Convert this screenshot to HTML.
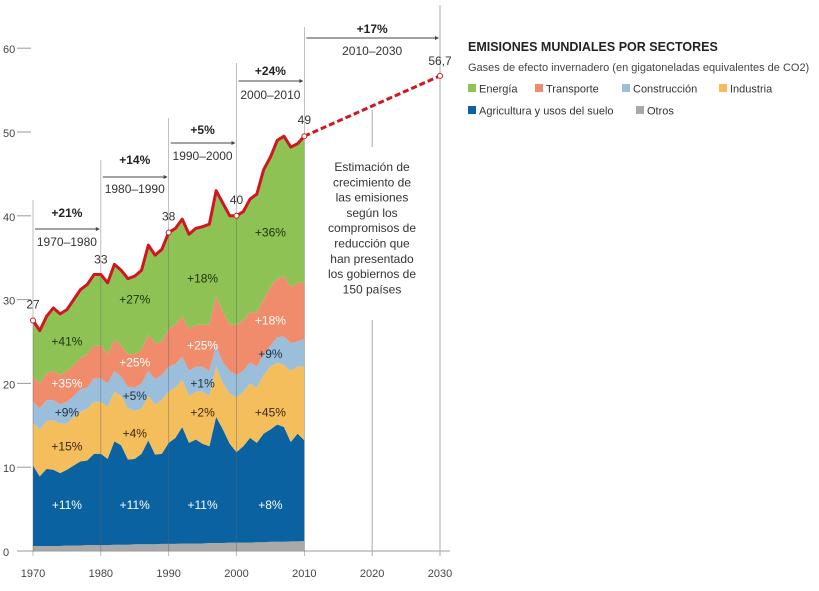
<!DOCTYPE html>
<html><head><meta charset="utf-8"><style>
body{margin:0;background:#fff;width:819px;height:586px;overflow:hidden;font-family:"Liberation Sans",sans-serif}
svg text{font-family:"Liberation Sans",sans-serif}
</style></head><body>
<svg id="c" width="819" height="586"></svg>
<script>
const years=[1970,1971,1972,1973,1974,1975,1976,1977,1978,1979,1980,1981,1982,1983,1984,1985,1986,1987,1988,1989,1990,1991,1992,1993,1994,1995,1996,1997,1998,1999,2000,2001,2002,2003,2004,2005,2006,2007,2008,2009,2010];
const otros=[0.6,0.6,0.6,0.6,0.6,0.65,0.65,0.65,0.7,0.7,0.7,0.7,0.75,0.75,0.75,0.8,0.8,0.8,0.8,0.85,0.85,0.85,0.9,0.9,0.9,0.9,0.95,0.95,0.95,1,1,1,1,1.05,1.05,1.1,1.1,1.1,1.15,1.15,1.2];
const agriTop=[10.2,8.9,9.8,9.7,9.3,9.7,10.2,10.7,10.8,11.6,11.6,11,13.1,12.6,10.9,11,11.6,13.2,11.5,11.6,12.9,13.5,14.8,12.9,13.3,12.8,12.5,16,14.5,12.8,11.8,12.5,13.5,12.9,14,14.5,15.1,14.8,13,14,13.2];
const induTop=[15.3,14.5,15.5,15.6,15.2,15.2,16,16.6,17,17.8,17.8,17.2,19,18.5,17,16.7,17,18.5,17.5,18,19,19.5,20.4,18.5,19,19,18.5,22,20,18.8,18.3,19,20,19.5,21,22,22.5,22.2,21.5,22,22];
const consTop=[17.8,17,18,18,17.5,17.8,18.5,19.3,19.5,20.6,20.6,20,21.5,20.8,19.6,19.5,20,21.5,20.5,21,22,22.3,23.2,21.5,22,22,21.5,24.5,22.5,21.5,21,21.5,22.5,22,23.5,24.5,25.5,25.6,24.8,25,25.3];
const tranTop=[20.8,20,21.2,21.5,21,21.5,22.2,23,23.5,24.5,24.5,23.5,25.2,24.5,23.5,23.5,24,25.8,24.8,25,26.5,27,28,26.5,27,27,27,30.4,28.5,27,27,27.5,28.5,28.5,30,31.5,32.5,32.8,31.5,32,32];
const total=[27.5,26.3,28,29,28.3,28.8,30,31.2,31.8,33,33,32,34.2,33.5,32.5,32.8,33.5,36.5,35.3,36,38,38.5,39.6,37.8,38.5,38.7,39,43,41.5,40,40,40.5,42,42.6,45.5,47,49,49.5,48.2,48.6,49.5];
const projYears=[2010,2030];const projVals=[49.5,56.7];
const yTicks=[0,10,20,30,40,50,60];
const xTicks=[1970,1980,1990,2000,2010,2020,2030];
const labelYears=[1970,1990,2000,2010];const labelVals=["27","38","40","49"];
const decades=[[1970,1980,"+21%","1970–1980",213,229,241],[1980,1990,"+14%","1980–1990",160,177,188],[1990,2000,"+5%","1990–2000",130,143,155],[2000,2010,"+24%","2000–2010",71,81,94],[2010,2030,"+17%","2010–2030",29,38,50]];
const lineTops={1970:200,1980:160,1990:118,2000:63,2010:27,2030:5};
const pctCols=[1975,1985,1995,2005];
const pcts=[["+11%","+11%","+11%","+8%"],["+15%","+4%","+2%","+45%"],["+9%","+5%","+1%","+9%"],["+35%","+25%","+25%","+18%"],["+41%","+27%","+18%","+36%"]];
const pctVals=[[5.5,5.5,5.5,5.5],[12.5,14,16.5,16.5],[16.5,18.5,20,23.5],[20,22.5,24.5,27.5],[25,30,32.5,38]];
const pctColors=["#fff","#3a2a10","#1f3040","#fff","#1f3010"];

const X=y=>33+(y-1970)*(407/60);
const Y=v=>551-v*8.38;
const S=document.getElementById('c');const NS='http://www.w3.org/2000/svg';
function mk(t,a,p){const e=document.createElementNS(NS,t);for(const k in a)e.setAttribute(k,a[k]);(p||S).appendChild(e);return e;}
function area(top,bot,col,name){let d='M'+years.map((y,i)=>X(y)+','+Y(top[i])).join('L');for(let i=years.length-1;i>=0;i--)d+='L'+X(years[i])+','+Y(bot[i]);const e=mk('path',{d:d+'Z',fill:col});

}
const zero=years.map(()=>0);
area(otros,zero,'#a9a9a9','area-otros');
area(agriTop,otros,'#0b62a0','area-agricultura');
area(induTop,agriTop,'#f5be5c','area-industria');
area(consTop,induTop,'#9bbfda','area-construccion');
area(tranTop,consTop,'#f08b6c','area-transporte');
area(total,tranTop,'#8ec255','area-energia');
yTicks.forEach(v=>{const t=mk('text',{x:3,y:Y(v)+5,'font-size':11,fill:'#444'});t.textContent=v;


mk('line',{x1:17,x2:31,y1:Y(v),y2:Y(v),stroke:'#999','stroke-width':1});});
mk('line',{x1:17,x2:450,y1:551,y2:551,stroke:'#999'});
xTicks.forEach(y=>{const top=y===2020?320:(lineTops[y]||0);
if(y===2020)mk('line',{x1:X(y),x2:X(y),y1:110,y2:147,stroke:'#aaa'});
mk('line',{x1:X(y),x2:X(y),y1:top,y2:556,stroke:y<=2010?'#666':'#aaa','stroke-width':y<=2010?0.7:1,'stroke-opacity':y<=2010?0.6:1});
const t=mk('text',{x:X(y),y:577,'font-size':11,fill:'#444','text-anchor':'middle'});t.textContent=y;

});
decades.forEach(d=>{const x1=X(d[0]),x2=X(d[1]),m=(x1+x2)/2;
const a=mk('text',{x:m,y:d[4]+4,'font-size':12,'font-weight':'bold',fill:'#222','text-anchor':'middle'});a.textContent=d[2];


mk('line',{x1:x1+2,x2:x2-2,y1:d[5],y2:d[5],stroke:'#444'});
mk('path',{d:`M${x2-1},${d[5]}l-4,-2v4z`,fill:'#444'});
const b=mk('text',{x:m,y:d[6]+5,'font-size':12,fill:'#333','text-anchor':'middle'});b.textContent=d[3];

});
pcts.forEach((row,r)=>row.forEach((s,c)=>{const t=mk('text',{x:X(pctCols[c]),y:Y(pctVals[r][c])+4,'font-size':12,fill:pctColors[r],'text-anchor':'middle'});t.textContent=s;

}));
const tl=mk('path',{d:'M'+years.map((y,i)=>X(y)+','+Y(total[i])).join('L'),fill:'none',stroke:'#d0161f','stroke-width':3,'stroke-linejoin':'round'});


const pl=mk('line',{x1:X(projYears[0]),y1:Y(projVals[0]),x2:X(projYears[1]),y2:Y(projVals[1]),stroke:'#d0161f','stroke-width':3,'stroke-dasharray':'6,3'});


labelYears.forEach((y,i)=>{const v=total[years.indexOf(y)];mk('circle',{cx:X(y),cy:Y(v),r:2.5,fill:'#fff',stroke:'#d0161f','stroke-width':1});
const t=mk('text',{x:X(y),y:Y(v)-12,'font-size':12,fill:'#333','text-anchor':'middle'});t.textContent=labelVals[i];

});
const t33=mk('text',{x:X(1980),y:Y(33)-11,'font-size':12,fill:'#333','text-anchor':'middle'});t33.textContent='33';


mk('circle',{cx:X(2030),cy:Y(56.7),r:2.5,fill:'#fff',stroke:'#d0161f'});
const t57=mk('text',{x:X(2030),y:Y(56.7)-11,'font-size':12,fill:'#333','text-anchor':'middle'});t57.textContent='56,7';


const note=["Estimación de","crecimiento de","las emisiones","según los","compromisos de","reducción que","han presentado","los gobiernos de","150 países"];
note.forEach((s,i)=>{const t=mk('text',{x:372,y:171+i*15.3,'font-size':12,fill:'#333','text-anchor':'middle'});t.textContent=s;

});
const h=mk('text',{x:468,y:51,'font-size':12.5,'font-weight':'bold',fill:'#222'});h.textContent='EMISIONES MUNDIALES POR SECTORES';


const sb=mk('text',{x:468,y:71,'font-size':11,fill:'#444'});sb.textContent='Gases de efecto invernadero (en gigatoneladas equivalentes de CO2)';


const leg=[["Energía","#8ec255",468,89],["Transporte","#f08b6c",535,89],["Construcción","#9bbfda",622,89],["Industria","#f5be5c",719,89],["Agricultura y usos del suelo","#0b62a0",468,111],["Otros","#a9a9a9",636,111]];
leg.forEach(l=>{const g=mk('g',{});


mk('rect',{x:l[2],y:l[3]-5,width:8,height:8,fill:l[1]},g);const t=mk('text',{x:l[2]+11,y:l[3]+3.5,'font-size':11,fill:'#333'},g);t.textContent=l[0];});
</script>
</body></html>
